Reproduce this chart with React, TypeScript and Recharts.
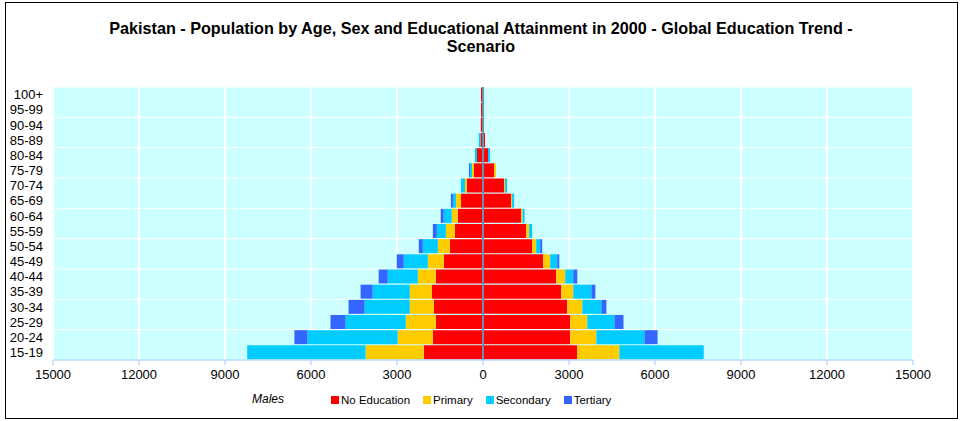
import React from 'react';
import { BarChart, Bar, XAxis, YAxis, CartesianGrid, ReferenceLine } from 'recharts';

// age groups listed top to bottom, as in the pyramid
const AGE_GROUPS = [
  '100+', '95-99', '90-94', '85-89', '80-84', '75-79', '70-74', '65-69', '60-64',
  '55-59', '50-54', '45-49', '40-44', '35-39', '30-34', '25-29', '20-24', '15-19',
];

// thousands, males (left side)
const MALE_NO_EDU = [70, 70, 75, 85, 210, 315, 560, 770, 880, 980, 1155, 1365, 1645, 1785, 1715, 1645, 1750, 2065];
const MALE_PRIMARY = [0, 0, 0, 0, 0, 70, 70, 175, 210, 315, 420, 560, 630, 770, 840, 1050, 1225, 2030];
const MALE_SECONDARY = [0, 0, 0, 60, 70, 70, 140, 105, 280, 315, 525, 840, 1050, 1295, 1575, 2100, 3150, 4130];
const MALE_TERTIARY = [0, 0, 0, 0, 0, 35, 0, 70, 105, 140, 140, 245, 315, 420, 560, 525, 455, 0];

// females (right side)
const FEMALE_NO_EDU = [15, 20, 25, 70, 175, 385, 735, 980, 1330, 1505, 1715, 2100, 2555, 2730, 2940, 3045, 3045, 3290];
const FEMALE_PRIMARY = [0, 0, 0, 0, 0, 70, 35, 35, 50, 105, 140, 245, 315, 420, 525, 595, 910, 1470];
const FEMALE_SECONDARY = [0, 0, 0, 0, 70, 0, 70, 70, 70, 105, 140, 245, 280, 630, 665, 945, 1680, 2940];
const FEMALE_TERTIARY = [0, 0, 0, 0, 0, 0, 0, 0, 0, 0, 70, 70, 140, 140, 175, 315, 455, 0];

const X_TICKS = [-15000, -12000, -9000, -6000, -3000, 0, 3000, 6000, 9000, 12000, 15000];

const LEGEND = [
  { label: 'No Education', color: '#FF0000' },
  { label: 'Primary', color: '#FFCC00' },
  { label: 'Secondary', color: '#00CCFF' },
  { label: 'Tertiary', color: '#3366FF' },
];

const FONT = '"Liberation Sans", Arial, sans-serif';

const data = AGE_GROUPS.map((age, i) => ({
  age,
  mNoEdu: -MALE_NO_EDU[i],
  fNoEdu: FEMALE_NO_EDU[i],
  mPrimary: -MALE_PRIMARY[i],
  fPrimary: FEMALE_PRIMARY[i],
  mSecondary: -MALE_SECONDARY[i],
  fSecondary: FEMALE_SECONDARY[i],
  mTertiary: -MALE_TERTIARY[i],
  fTertiary: FEMALE_TERTIARY[i],
}));

// white rule after every second age group
const everyOtherBand = ({ offset }: any) => {
  const band = offset.height / AGE_GROUPS.length;
  const pts: number[] = [];
  for (let k = 0; k <= AGE_GROUPS.length; k += 2) pts.push(offset.top + k * band);
  return pts;
};

const App: React.FC = () => {
  return (
    <div style={{ position: 'absolute', left: 0, top: 0, width: 960, height: 421, fontFamily: FONT }}>
      <div
        style={{
          position: 'absolute', left: 0, top: 19, width: 962, textAlign: 'center',
          fontWeight: 'bold', fontSize: 16.2, lineHeight: '18px', color: '#000',
        }}
      >
        Pakistan - Population by Age, Sex and Educational Attainment in 2000 - Global Education Trend -
        <br />
        Scenario
      </div>

      <div style={{ position: 'absolute', left: 0, top: 0 }}>
        <BarChart
          width={960}
          height={421}
          data={data}
          layout="vertical"
          stackOffset="sign"
          barCategoryGap={0.5}
          margin={{ top: 87, right: 47, bottom: 31, left: 13 }}
        >
          <CartesianGrid vertical horizontal={false} stroke="#FFFFFF" strokeWidth={2} fill="#CCFFFF" />
          <CartesianGrid
            vertical={false}
            horizontal
            stroke="#FFFFFF"
            strokeWidth={1}
            horizontalCoordinatesGenerator={everyOtherBand}
          />
          <XAxis
            type="number"
            domain={[-15000, 15000]}
            ticks={X_TICKS}
            interval={0}
            allowDataOverflow
            tickFormatter={(v: number) => String(Math.abs(v))}
            height={30}
            tickSize={5}
            tickMargin={5}
            axisLine={{ stroke: '#99CCFF' }}
            tickLine={{ stroke: '#99CCFF' }}
            tick={{ fill: '#000', fontSize: 13, fontFamily: FONT }}
          />
          <YAxis
            type="category"
            dataKey="age"
            width={40}
            interval={0}
            axisLine={false}
            tickLine={false}
            tickMargin={4}
            tick={{ fill: '#000', fontSize: 13, fontFamily: FONT }}
          />
          <Bar dataKey="mNoEdu" stackId="pop" fill="#FF0000" isAnimationActive={false} />
          <Bar dataKey="fNoEdu" stackId="pop" fill="#FF0000" isAnimationActive={false} />
          <Bar dataKey="mPrimary" stackId="pop" fill="#FFCC00" isAnimationActive={false} />
          <Bar dataKey="fPrimary" stackId="pop" fill="#FFCC00" isAnimationActive={false} />
          <Bar dataKey="mSecondary" stackId="pop" fill="#00CCFF" isAnimationActive={false} />
          <Bar dataKey="fSecondary" stackId="pop" fill="#00CCFF" isAnimationActive={false} />
          <Bar dataKey="mTertiary" stackId="pop" fill="#3366FF" isAnimationActive={false} />
          <Bar dataKey="fTertiary" stackId="pop" fill="#3366FF" isAnimationActive={false} />
          <ReferenceLine x={0} stroke="#6F8FAE" strokeWidth={2} />
        </BarChart>
      </div>

      <div
        style={{
          position: 'absolute', left: 252, top: 392, fontSize: 12, fontStyle: 'italic', color: '#000',
        }}
      >
        Males
      </div>
      <div style={{ position: 'absolute', left: 331, top: 394, display: 'flex', fontSize: 11.5, color: '#000' }}>
        {LEGEND.map((item) => (
          <div key={item.label} style={{ display: 'flex', alignItems: 'center', marginRight: 13 }}>
            <span style={{ display: 'inline-block', width: 8, height: 8, background: item.color, marginRight: 2 }} />
            <span>{item.label}</span>
          </div>
        ))}
      </div>

      {/* chart frame */}
      <div
        style={{
          position: 'absolute', left: 5, top: 2, width: 951, height: 415,
          border: '1px solid #000', pointerEvents: 'none',
        }}
      />
    </div>
  );
};

export default App;
